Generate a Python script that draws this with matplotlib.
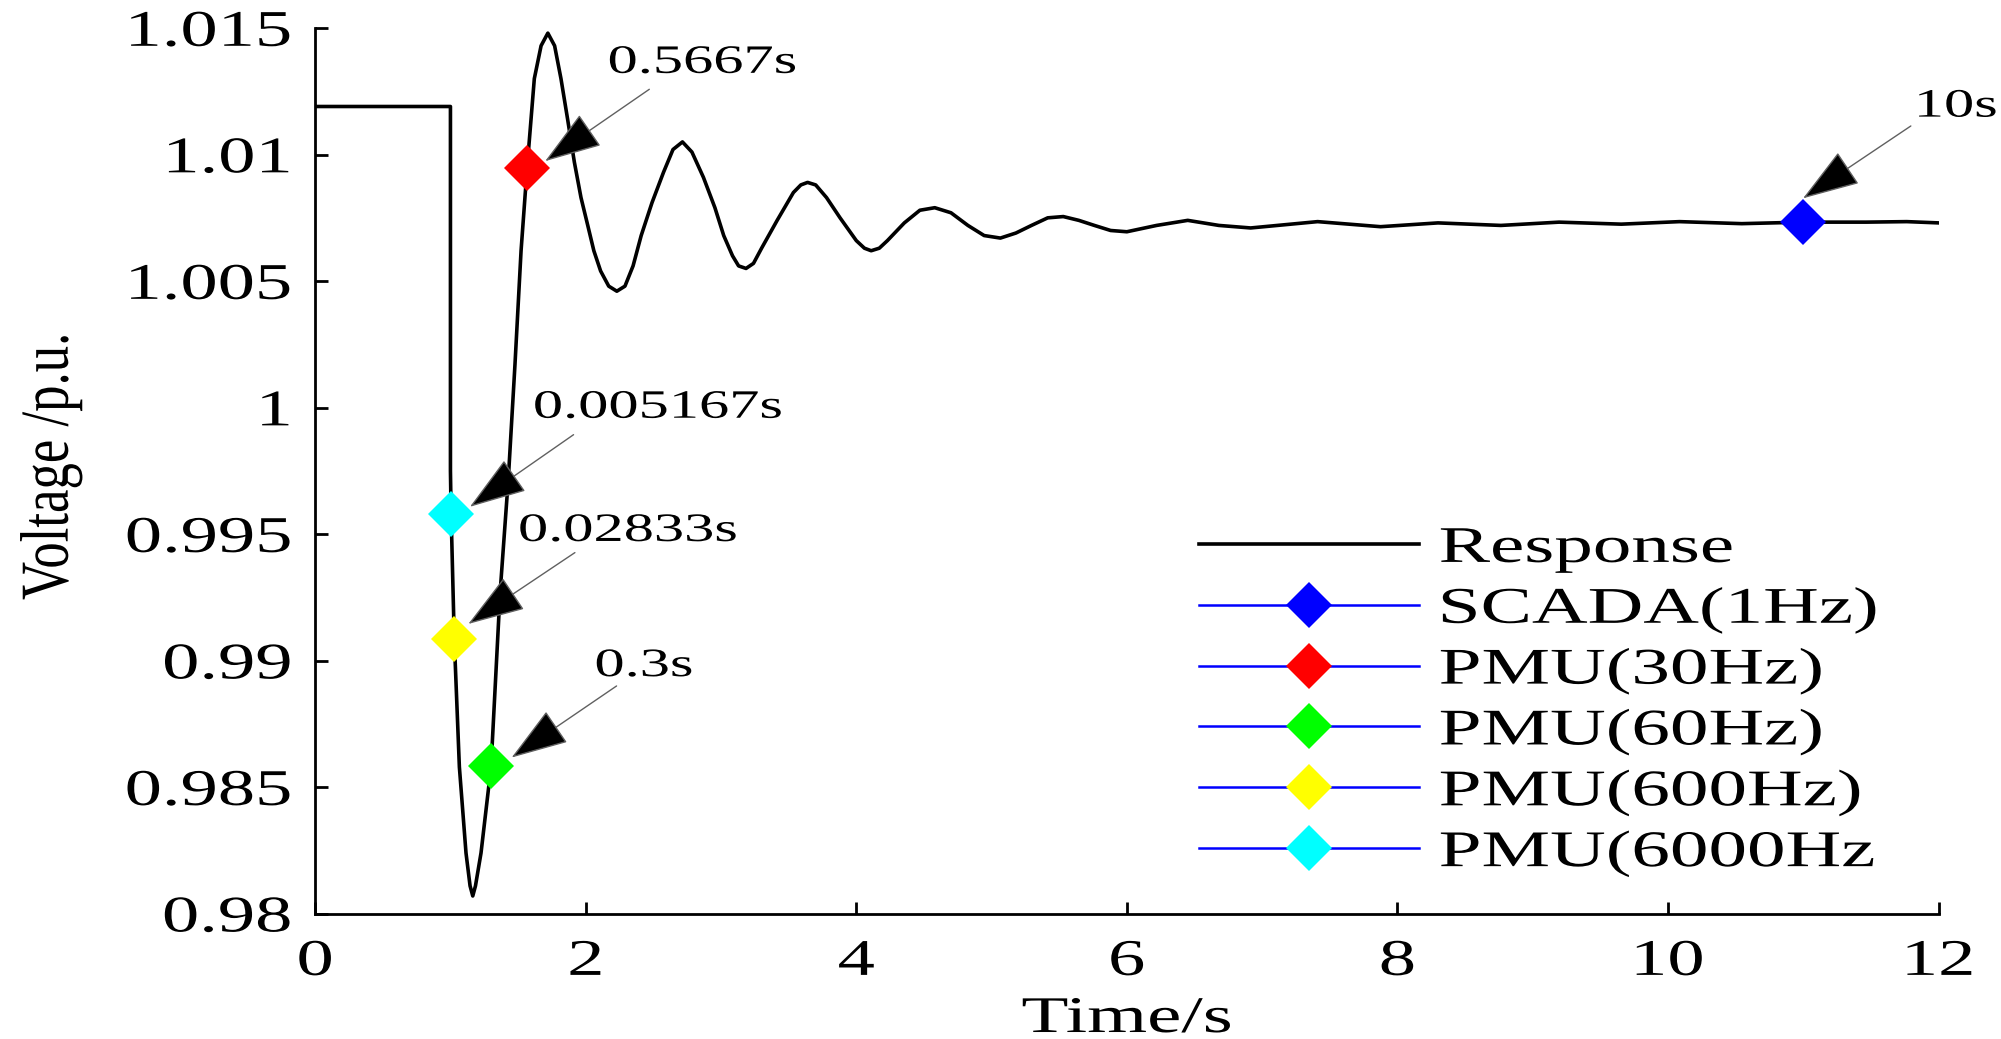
import matplotlib
matplotlib.use("Agg")
import matplotlib.pyplot as plt
from matplotlib.patheffects import AbstractPathEffect
from matplotlib.transforms import Affine2D

# ---------------- data ----------------
time_s = [0.0, 1.0, 1.0, 1.005, 1.028, 1.066, 1.115, 1.145, 1.165, 1.185, 1.226,
          1.30, 1.366, 1.428, 1.477, 1.522, 1.567, 1.62, 1.67, 1.72, 1.77, 1.817,
          1.866, 1.916, 1.965, 2.015, 2.06, 2.11, 2.17, 2.23, 2.29, 2.35, 2.41,
          2.49, 2.575, 2.645, 2.715, 2.785, 2.87, 2.955, 3.02, 3.085, 3.13, 3.185,
          3.24, 3.30, 3.415, 3.535, 3.59, 3.64, 3.70, 3.78, 3.88, 4.0, 4.06, 4.11,
          4.17, 4.23, 4.355, 4.47, 4.58, 4.70, 4.825, 4.945, 5.065, 5.18, 5.295,
          5.415, 5.53, 5.645, 5.76, 5.88, 6.0, 6.22, 6.45, 6.68, 6.915, 7.41, 7.875,
          8.30, 8.765, 9.195, 9.655, 10.085, 10.545, 11.0, 11.465, 11.765, 12.0]
voltage_pu = [1.0119, 1.0119, 0.9975, 0.9958, 0.9909, 0.9858, 0.9824, 0.9811, 0.9807,
              0.9811, 0.9824, 0.9858, 0.9926, 0.9972, 1.0017, 1.0062, 1.0095, 1.0130,
              1.0143, 1.0148, 1.0143, 1.0130, 1.0114, 1.0097, 1.0083, 1.0072, 1.0062,
              1.0054, 1.0048, 1.0046, 1.0048, 1.0056, 1.0068, 1.0081, 1.0093, 1.0102,
              1.0105, 1.0101, 1.0091, 1.0079, 1.0068, 1.0060, 1.0056, 1.0055, 1.0057,
              1.0063, 1.0074, 1.0085, 1.0088, 1.0089, 1.0088, 1.0083, 1.0075, 1.0066,
              1.0063, 1.0062, 1.0063, 1.0066, 1.0073, 1.0078, 1.0079, 1.0077, 1.0072,
              1.0068, 1.0067, 1.0069, 1.0072, 1.0075, 1.00755, 1.0074, 1.0072, 1.0070,
              1.00695, 1.0072, 1.0074, 1.0072, 1.0071, 1.00735, 1.00715, 1.0073, 1.0072,
              1.00733, 1.00725, 1.00735, 1.00727, 1.00733, 1.00733, 1.00735, 1.0073]

sample_labels = ["SCADA(1Hz)", "PMU(30Hz)", "PMU(60Hz)", "PMU(600Hz)", "PMU(6000Hz"]
sample_t = [11.0, 1.5667, 1.3, 1.02833, 1.005167]
sample_v = [1.00733, 1.00947, 0.98583, 0.99087, 0.99581]
sample_colors = ["#0000ff", "#ff0000", "#00ff00", "#ffff00", "#00ffff"]

annot_texts = ["10s", "0.5667s", "0.3s", "0.02833s", "0.005167s"]
annot_text_t = [11.83, 2.167, 2.07, 1.505, 1.615]
annot_text_v = [1.0115, 1.01323, 0.98939, 0.99473, 0.9996]
annot_tail_t = [11.795, 2.47, 2.228, 1.92, 1.91]
annot_tail_v = [1.01113, 1.01258, 0.9890, 0.99427, 0.99893]
annot_tip_t = [10.998, 1.70, 1.452, 1.132, 1.144]
annot_tip_v = [1.00827, 1.00974, 0.98617, 0.99145, 0.99608]

x_ticks = [0, 2, 4, 6, 8, 10, 12]
y_ticks = [0.98, 0.985, 0.99, 0.995, 1.0, 1.005, 1.01, 1.015]
y_tick_labels = ["0.98", "0.985", "0.99", "0.995", "1", "1.005", "1.01", "1.015"]


# ---------------- horizontal stretch of glyphs (text stays text) ----------------
class Stretch(AbstractPathEffect):
    def __init__(self, sx=1.0, sy=1.0, anchor=(0.0, 0.0)):
        super().__init__()
        self.sx, self.sy, self.anchor = sx, sy, anchor

    def draw_path(self, renderer, gc, tpath, affine, rgbFace=None):
        if len(tpath.vertices) == 0:
            renderer.draw_path(gc, tpath, affine, rgbFace)
            return
        ext = tpath.get_extents()
        ax0 = ext.x0 + self.anchor[0] * ext.width
        ay0 = ext.y0 + self.anchor[1] * ext.height
        t = Affine2D().translate(-ax0, -ay0).scale(self.sx, self.sy).translate(ax0, ay0)
        renderer.draw_path(gc, tpath, t + affine, rgbFace)


SX = 1.5
SX_TICK = 1.45
plt.rcParams["font.family"] = ["Liberation Serif", "DejaVu Serif"]

fig = plt.figure(figsize=(20.01, 10.39), dpi=100)
ax = fig.add_axes([0.1575, 0.1206, 0.9688 - 0.1575, 0.973 - 0.1206])

ax.plot(time_s, voltage_pu, color="black", lw=2.6, label="Response",
        solid_joinstyle="round", zorder=3)
for lab, t, v, c in zip(sample_labels, sample_t, sample_v, sample_colors):
    ax.plot([t], [v], color="#0000ff", lw=1.8, marker="D", ms=23.5,
            markerfacecolor=c, markeredgecolor=c, markeredgewidth=0,
            label=lab, zorder=5)

for s, tx, ty, t0, v0, t1, v1 in zip(annot_texts, annot_text_t, annot_text_v,
                                      annot_tail_t, annot_tail_v, annot_tip_t, annot_tip_v):
    ax.annotate("", xy=(t1, v1), xytext=(t0, v0),
                arrowprops=dict(arrowstyle="-|>,head_length=3.7,head_width=1.25",
                                mutation_scale=10, shrinkA=0, shrinkB=0, lw=1.0,
                                ec="#606060", fc="black"), zorder=6)
    ax.text(tx, ty, s, ha="left", va="baseline", fontsize=29, zorder=6,
            path_effects=[Stretch(SX, 1.0, (0.0, 0.0))])

ax.set_xlim(0, 12)
ax.set_ylim(0.98, 1.015)
ax.set_xticks(x_ticks)
ax.set_yticks(y_ticks)
ax.set_yticklabels(y_tick_labels)

for sp in ["top", "right"]:
    ax.spines[sp].set_visible(False)
for sp in ["left", "bottom"]:
    ax.spines[sp].set_linewidth(2.0)

ax.tick_params(axis="both", direction="in", length=9, width=2.0, labelsize=37)
ax.tick_params(axis="x", pad=18.5)
ax.tick_params(axis="y", pad=17)
for lbl in ax.get_xticklabels():
    lbl.set_path_effects([Stretch(SX_TICK, 1.0, (0.5, 0.0))])
for lbl in ax.get_yticklabels():
    lbl.set_path_effects([Stretch(SX_TICK, 1.0, (1.0, 0.0))])

xl = ax.set_xlabel("Time/s", fontsize=37, va="baseline")
ax.xaxis.set_label_coords(0.5, -0.1336)
xl.set_path_effects([Stretch(SX, 1.0, (0.5, 0.0))])
yl = ax.set_ylabel("Voltage /p.u.", fontsize=38, va="center")
ax.yaxis.set_label_coords(-0.1628, 0.505)
yl.set_path_effects([Stretch(1.0, 1.3, (0.5, 0.5))])

leg = ax.legend(loc="upper left", bbox_to_anchor=(0.5994, 0.4938),
                bbox_transform=fig.transFigure, frameon=False, fontsize=37,
                handlelength=4.27, handletextpad=0.4, labelspacing=0.27,
                borderaxespad=0, borderpad=0, numpoints=1)
for txt in leg.get_texts():
    txt.set_path_effects([Stretch(SX, 1.0, (0.0, 0.0))])

fig.savefig("out.png", dpi=100)
